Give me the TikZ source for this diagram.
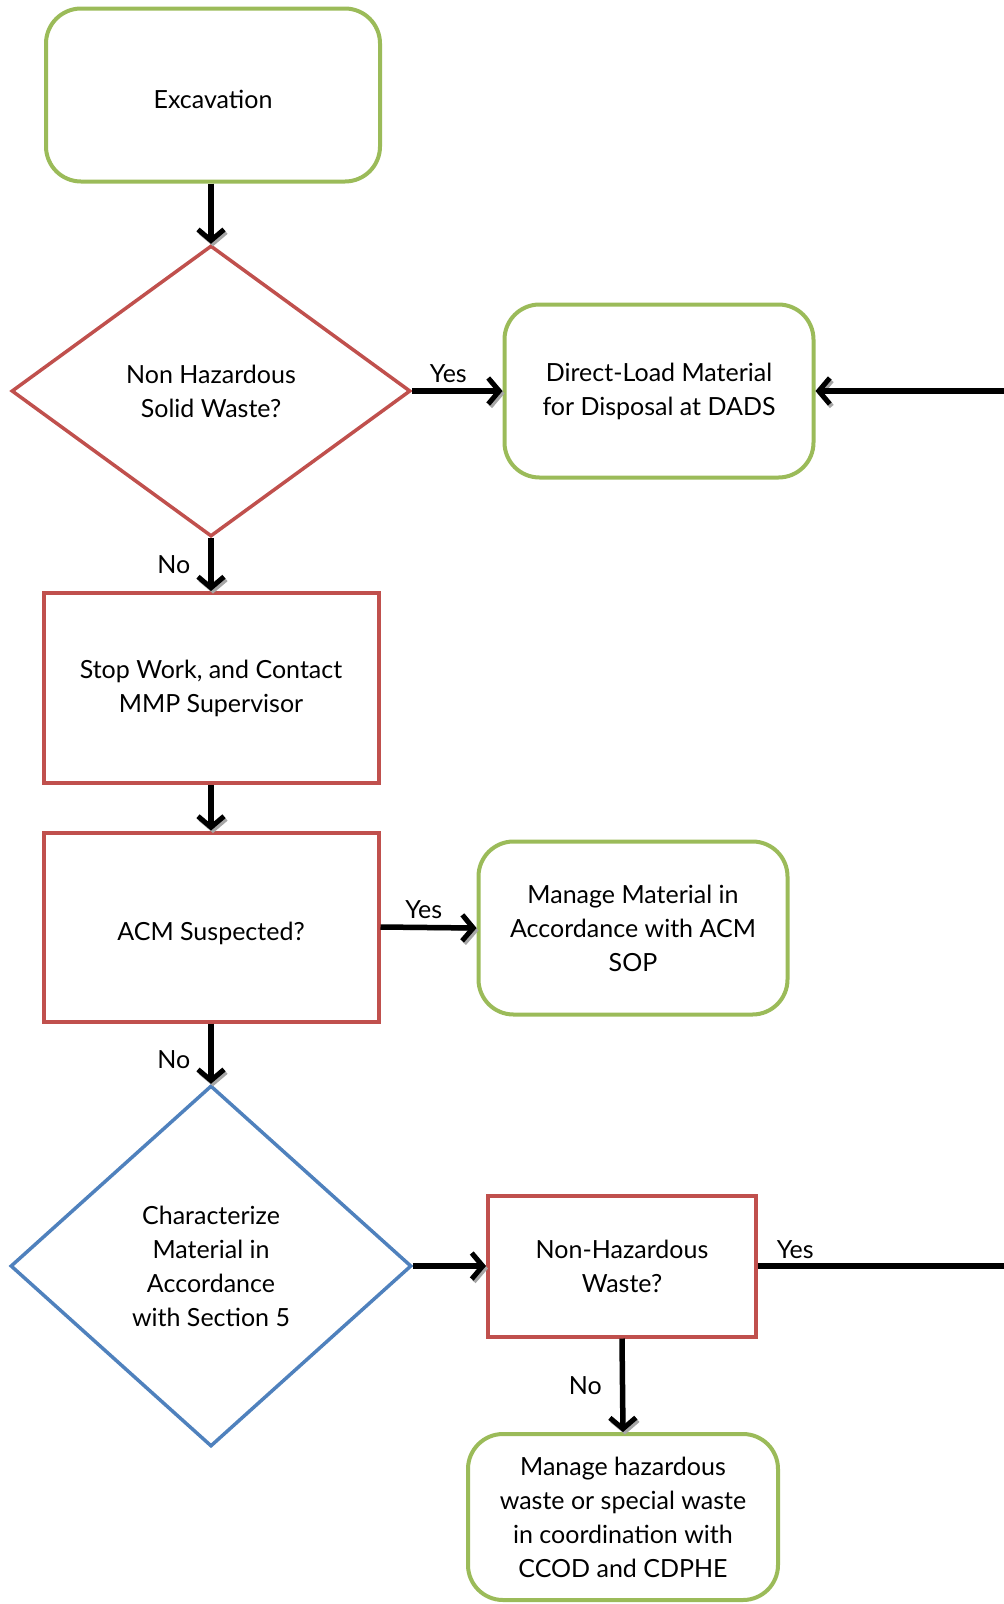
\documentclass[tikz,border=0pt]{standalone}
\usepackage{fontspec}
\setmainfont{Lato}
\usetikzlibrary{arrows.meta,shapes.geometric}

\definecolor{boxgreen}{HTML}{9BBB59}
\definecolor{boxred}{HTML}{C0504D}
\definecolor{boxblue}{HTML}{4F81BD}

\begin{document}
\begin{tikzpicture}[x=1pt, y=-1pt,
        every node/.style={font=\fontsize{25}{34}\selectfont, align=center, inner sep=0pt},
        endbox/.style={draw=boxgreen, line width=4pt, rounded corners=35pt},
        redbox/.style={draw=boxred, line width=4pt},
        decision/.style={draw=#1, line width=3.5pt, diamond},
        flow/.style={line width=5.5pt, -{Straight Barb[length=11pt, width=26pt, line width=5pt]},
            preaction={draw=black!35, transform canvas={shift={(2pt,-2.5pt)}}}},
        flowline/.style={line width=5.5pt,
            preaction={draw=black!35, transform canvas={shift={(2pt,-2.5pt)}}}},
        lbl/.style={font=\fontsize{25}{30}\selectfont}]
    \useasboundingbox (0, 0) rectangle (1004, 1604);

    \node[endbox, minimum width=334pt, minimum height=173pt] (exc) at (213, 95) {\raisebox{-4pt}[\height][\depth]{Excavation}};
    \node[decision=boxred, minimum width=399pt, minimum height=291pt] (nhsw) at (211, 391) {Non Hazardous\\Solid Waste?};
    \node[endbox, minimum width=309pt, minimum height=173pt] (dads) at (659, 391) {Direct-Load Material\\for Disposal at DADS};
    \node[redbox, minimum width=335pt, minimum height=190pt] (stop) at (211, 688) {Stop Work, and Contact\\MMP Supervisor};
    \node[redbox, minimum width=335pt, minimum height=189pt] (acm) at (211, 927) {\raisebox{-6pt}[\height][\depth]{ACM Suspected?}};
    \node[endbox, minimum width=309pt, minimum height=173pt] (acmsop) at (633, 928) {Manage Material in\\Accordance with ACM\\SOP};
    \node[decision=boxblue, minimum width=401pt, minimum height=361pt] (char) at (211, 1266) {Characterize\\Material in\\Accordance\\with Section 5};
    \node[redbox, minimum width=268pt, minimum height=141pt] (nhw) at (622, 1266) {Non-Hazardous\\Waste?};
    \node[endbox, minimum width=310pt, minimum height=166pt] (haz) at (623, 1517) {Manage hazardous\\waste or special waste\\in coordination with\\CCOD and CDPHE};

    \coordinate (inA) at (1004, 391);
    \coordinate (outB) at (1004, 1266);

    \draw[flow] (exc.south -| nhsw.north) -- (nhsw.north);
    \draw[flow] (nhsw.east) -- node[lbl, pos=0.4, above=6pt] {Yes} (dads.west);
    \draw[flow] (inA) -- (dads.east);
    \draw[flow] (nhsw.south) -- node[lbl, left=18pt] {No} (stop.north);
    \draw[flow] (stop.south) -- (acm.north);
    \draw[flow] (acm.east) -- node[lbl, pos=0.45, above=6pt] {Yes} (acmsop.west);
    \draw[flow] (acm.south) -- node[lbl, pos=0.6, left=18pt] {No} (char.north);
    \draw[flow] (char.east) -- (nhw.west);
    \draw[flowline] (nhw.east) -- node[lbl, pos=0, anchor=south west, xshift=16pt, yshift=5pt] {Yes} (outB);
    \draw[flow] (nhw.south) -- node[lbl, left=18pt] {No} (haz.north);
\end{tikzpicture}
\end{document}
